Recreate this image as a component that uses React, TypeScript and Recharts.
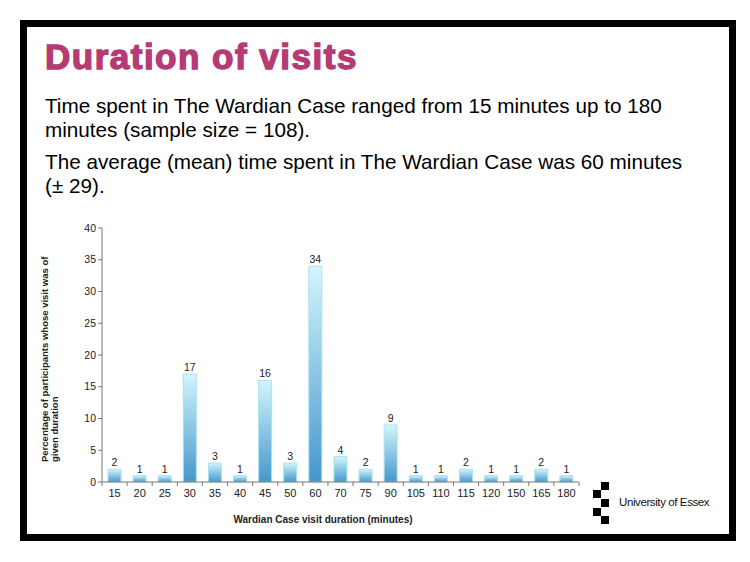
import React from 'react';
import { BarChart, Bar, XAxis, YAxis, LabelList } from 'recharts';

// visit duration categories (minutes) and % of participants
const durations = ['15', '20', '25', '30', '35', '40', '45', '50', '60', '70', '75', '90', '105', '110', '115', '120', '150', '165', '180'];
const percentages = [2, 1, 1, 17, 3, 1, 16, 3, 34, 4, 2, 9, 1, 1, 2, 1, 1, 2, 1];
const yTicks = [0, 5, 10, 15, 20, 25, 30, 35, 40];

const data = durations.map((d, i) => ({ duration: d, pct: percentages[i] }));

const CHART_W = 560;
const CHART_H = 310;
const MARGIN = { top: 13, right: 11, bottom: 13, left: 0 };
const Y_W = 72;
const PLOT_W = CHART_W - MARGIN.left - MARGIN.right - Y_W;
const BAND = PLOT_W / durations.length;

const FONT = '"Liberation Sans", Arial, Helvetica, sans-serif';

const XTick = (props: any) => {
  const { x, y, payload, index } = props;
  const axisY = y - 6;
  const last = index === durations.length - 1;
  return (
    <g>
      <line x1={x - BAND / 2} y1={axisY} x2={x - BAND / 2} y2={axisY + 4} stroke="#777" />
      {last && <line x1={x + BAND / 2} y1={axisY} x2={x + BAND / 2} y2={axisY + 4} stroke="#777" />}
      <text x={x} y={y} dy="0.8em" textAnchor="middle" fontSize={11} fill="#222" fontFamily={FONT}>
        {payload.value}
      </text>
    </g>
  );
};

const Square = ({ x, y }: { x: number; y: number }) => (
  <div style={{ position: 'absolute', left: x, top: y, width: 8, height: 8, background: '#000' }} />
);

export default function App() {
  return (
    <div style={{ position: 'absolute', left: 0, top: 0, width: 750, height: 562, background: '#fff', fontFamily: FONT }}>
      {/* frame */}
      <div style={{ position: 'absolute', left: 20, top: 20, width: 702, height: 507, border: '7px solid #000' }} />

      <div
        style={{
          position: 'absolute', left: 45, top: 37, fontSize: 35, lineHeight: '40px', fontWeight: 'bold',
          letterSpacing: 1.5, color: '#b53a75', WebkitTextStroke: '1.4px #b53a75',
        }}
      >
        Duration of visits
      </div>
      <div style={{ position: 'absolute', left: 45, top: 94, width: 690, fontSize: 20.7, lineHeight: '24px', color: '#000' }}>
        <div>Time spent in The Wardian Case ranged from 15 minutes up to 180<br />minutes (sample size = 108).</div>
        <div style={{ marginTop: 8 }}>The average (mean) time spent in The Wardian Case was 60 minutes<br />(± 29).</div>
      </div>

      <div style={{ position: 'absolute', left: 30, top: 215 }}>
        <BarChart width={CHART_W} height={CHART_H} data={data} margin={MARGIN} barSize={13}>
          <defs>
            <linearGradient id="barGrad" x1="0" y1="0" x2="0" y2="1">
              <stop offset="0%" stopColor="#d2f6fc" />
              <stop offset="100%" stopColor="#4696cc" />
            </linearGradient>
          </defs>
          <XAxis
            dataKey="duration"
            height={30}
            stroke="#777"
            tickLine={false}
            tickSize={4}
            tickMargin={2}
            interval={0}
            tick={<XTick />}
          />
          <YAxis
            width={Y_W}
            domain={[0, 40]}
            ticks={yTicks}
            stroke="#777"
            tickSize={4}
            tick={{ fontSize: 10.5, fill: '#222', fontFamily: FONT }}
          />
          <Bar dataKey="pct" fill="url(#barGrad)" stroke="#a8e2f2" strokeWidth={1} isAnimationActive={false}>
            <LabelList dataKey="pct" position="top" offset={3} fontSize={10.5} fill="#222" fontFamily={FONT} />
          </Bar>
        </BarChart>
      </div>

      {/* axis titles */}
      <div
        style={{
          position: 'absolute', left: 40, top: 462, transformOrigin: '0 0', transform: 'rotate(-90deg)',
          fontSize: 9.5, fontWeight: 'bold', lineHeight: '10px', color: '#222', whiteSpace: 'nowrap',
        }}
      >
        <div>Percentage of participants whose visit was of</div>
        <div>given duration</div>
      </div>
      <div style={{ position: 'absolute', left: 102, width: 442, top: 514, textAlign: 'center', fontSize: 10, fontWeight: 'bold', color: '#222' }}>
        Wardian Case visit duration (minutes)
      </div>

      {/* logo */}
      <Square x={601} y={482} />
      <Square x={593} y={490} />
      <Square x={601} y={499} />
      <Square x={593} y={508} />
      <Square x={601} y={516} />
      <div style={{ position: 'absolute', left: 619, top: 496, fontSize: 11.5, letterSpacing: -0.4, color: '#111' }}>
        University of Essex
      </div>
    </div>
  );
}
